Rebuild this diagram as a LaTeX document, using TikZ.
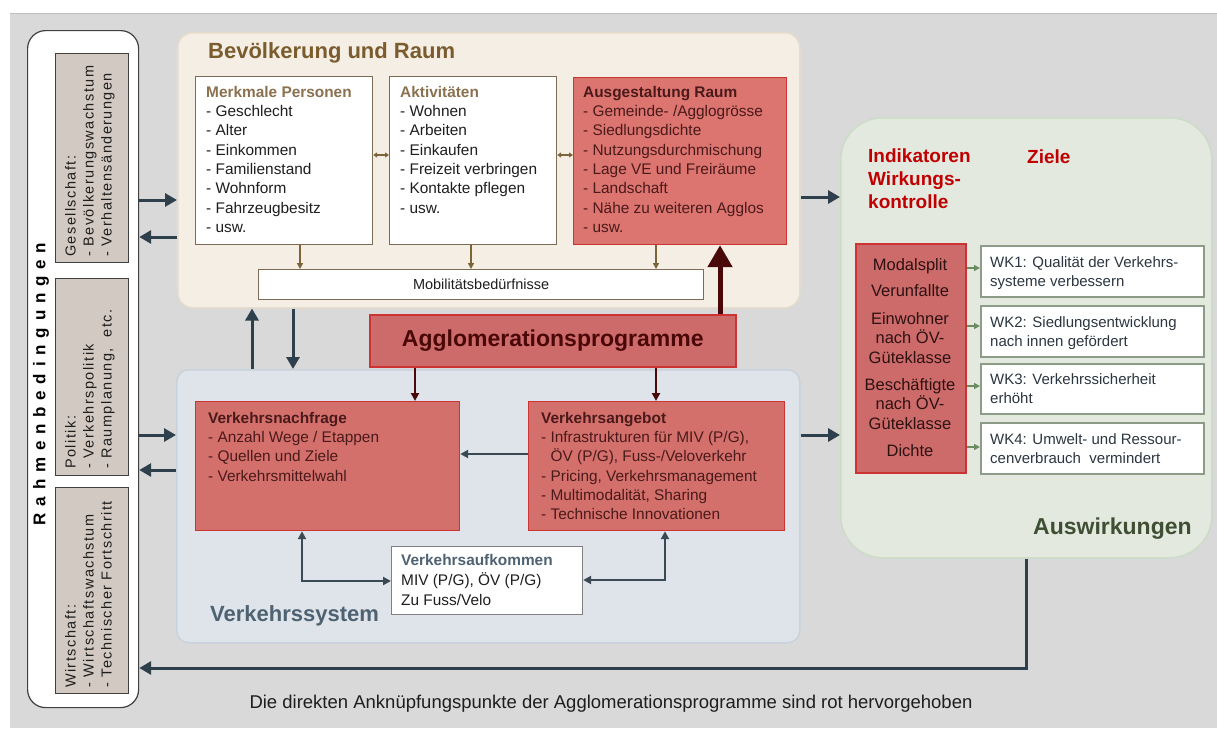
\documentclass[tikz,border=0pt]{standalone}
\usepackage{fontspec}
\setmainfont{Liberation Sans}
\newfontfamily\spacedfont[LetterSpace=40]{Liberation Sans}
\newfontfamily\rotfont[LetterSpace=10]{Liberation Sans}
\usetikzlibrary{arrows.meta}
\newcommand\myfs[2]{\fontsize{#1}{#2}\selectfont}
\definecolor{bg}{HTML}{D9D9D9}
\definecolor{cframe}{HTML}{404040}
\definecolor{cgray}{HTML}{D2C9C2}
\definecolor{cbevfill}{HTML}{F4EEE4}
\definecolor{cbevdraw}{HTML}{E6DCCB}
\definecolor{csysfill}{HTML}{DEE4E9}
\definecolor{csysdraw}{HTML}{C8D2DC}
\definecolor{causfill}{HTML}{E3E9DF}
\definecolor{causdraw}{HTML}{CCDCC6}
\definecolor{credfill}{HTML}{D4706C}
\definecolor{credraw}{HTML}{CC3333}
\definecolor{cagglofill}{HTML}{CD6A6A}
\definecolor{craumfill}{HTML}{DC7470}
\definecolor{cbrownbox}{HTML}{7C6C55}
\definecolor{ctitlebrown}{HTML}{7A5C2E}
\definecolor{cbrowntitle}{HTML}{8A7150}
\definecolor{cbrownarr}{HTML}{7A6438}
\definecolor{cmaroon}{HTML}{4A0808}
\definecolor{credtext}{HTML}{4A1A1A}
\definecolor{cslate}{HTML}{4F6272}
\definecolor{cdark}{HTML}{2E404C}
\definecolor{csys}{HTML}{3A4954}
\definecolor{cgreen}{HTML}{6B8C60}
\definecolor{cwkdraw}{HTML}{8C9C86}
\definecolor{cwktext}{HTML}{2C3640}
\definecolor{cred}{HTML}{C00000}
\definecolor{causwtitle}{HTML}{3F4F33}
\definecolor{ctext}{HTML}{1E1E1E}
\definecolor{cindtext}{HTML}{2E1212}
\begin{document}
\begin{tikzpicture}[x=1pt,y=-1pt,
  bx/.style={anchor=north west, inner sep=0pt, line width=1pt},
  txt/.style={anchor=north west, inner sep=0pt, align=left},
  arrdark/.style={draw=cdark, line width=3pt, -{Triangle[length=12pt,width=13pt]}},
  arrbrown/.style={draw=cbrownarr, line width=1.4pt, -{Triangle[length=6pt,width=6pt]}},
  arrbrownboth/.style={draw=cbrownarr, line width=1.2pt, {Triangle[length=4pt,width=5pt]}-{Triangle[length=4pt,width=5pt]}},
  arrred/.style={draw=cmaroon, line width=2.2pt, -{Triangle[length=8pt,width=8pt]}},
  arrsys/.style={draw=csys, line width=2pt, -{Triangle[length=8pt,width=8pt]}},
  arrsysboth/.style={draw=csys, line width=2pt, {Triangle[length=8pt,width=8pt]}-{Triangle[length=8pt,width=8pt]}},
  arrgreen/.style={draw=cgreen, line width=1.4pt, -{Triangle[length=6pt,width=6pt]}},
  redbox/.style={bx, fill=credfill, draw=credraw, line width=1.2pt},
  whitebox/.style={bx, fill=white, draw=cbrownbox, line width=1.2pt},
  wkbox/.style={bx, fill=white, draw=cwkdraw, line width=1.5pt, minimum width=223pt},
  graybox/.style={bx, fill=cgray, draw=cframe, minimum width=73pt},
  rottxt/.style={txt, rotate=90, text=ctext, font=\rotfont\myfs{14.5}{18}},
  body/.style={font=\myfs{15.4}{19.3}}
]
\useasboundingbox (0,0) rectangle (1217,728);
\fill[white] (0,0) rectangle (1217,728);
\fill[bg] (10,13) rectangle (1217,728);
\draw[color=black!25, line width=1pt] (10,13) -- (1217,13);

% Rahmenbedingungen
\node[bx, draw=cframe, fill=white, rounded corners=18pt, line width=1.2pt, minimum width=111pt, minimum height=677pt] (rahmen) at (27,30) {};
\node[rotate=90, inner sep=0pt, font=\spacedfont\bfseries\myfs{17}{20}, text=black] (rtitle) at (41,384) {Rahmenbedingungen};
\node[graybox, minimum height=209pt] (ges) at (55,53) {};
\node[graybox, minimum height=197pt] (pol) at (55,278) {};
\node[graybox, minimum height=206pt] (wir) at (55,487) {};
\node[rottxt] (gestxt) at (65,257) {Gesellschaft:\\- Bevölkerungswachstum\\- Verhaltensänderungen};
\node[rottxt] (poltxt) at (65,469) {Politik:\\- Verkehrspolitik\\- Raumplanung,\ \ etc.};
\node[rottxt] (wirtxt) at (65,688) {Wirtschaft:\\- Wirtschaftswachstum\\- Technischer Fortschritt};

% Bevoelkerung und Raum
\node[bx, fill=cbevfill, draw=cbevdraw, line width=1.5pt, rounded corners=15pt, minimum width=622pt, minimum height=275pt] (bev) at (177,32) {};
\node[anchor=west, inner sep=0pt, font=\bfseries\myfs{22}{24}, text=ctitlebrown] (bevtitle) at (208,53) {Bevölkerung und Raum};
\node[whitebox, minimum width=177pt, minimum height=168pt] (merk) at (195,76) {};
\node[whitebox, minimum width=167pt, minimum height=168pt] (akt) at (389,76) {};
\node[redbox, fill=craumfill, minimum width=213pt, minimum height=167pt] (raum) at (573,77) {};
\node[whitebox, minimum width=445pt, minimum height=30pt, font=\myfs{14.5}{16}, text=ctext] (mob) at (258,269) {Mobilitätsbedürfnisse};
\node[txt, body, text=ctext] (merktxt) at (206,86) {{\color{cbrowntitle}\bfseries Merkmale Personen}\\- Geschlecht\\- Alter\\- Einkommen\\- Familienstand\\- Wohnform\\- Fahrzeugbesitz\\- usw.};
\node[txt, body, text=ctext] (akttxt) at (400,86) {{\color{cbrowntitle}\bfseries Aktivitäten}\\- Wohnen\\- Arbeiten\\- Einkaufen\\- Freizeit verbringen\\- Kontakte pflegen\\- usw.};
\node[txt, body, text=credtext] (raumtxt) at (583,86) {{\bfseries Ausgestaltung Raum}\\- Gemeinde- /Agglogrösse\\- Siedlungsdichte\\- Nutzungsdurchmischung\\- Lage VE und Freiräume\\- Landschaft\\- Nähe zu weiteren Agglos\\- usw.};
\draw[arrbrown] (merk.south -| 300,0) -- (mob.north -| 300,0);
\draw[arrbrown] (akt.south -| 471,0) -- (mob.north -| 471,0);
\draw[arrbrown] (raum.south -| 656,0) -- (mob.north -| 656,0);
\draw[arrbrownboth] (merk.east |- 0,155) -- (akt.west |- 0,155);
\draw[arrbrownboth] (akt.east |- 0,155) -- (raum.west |- 0,155);

% Verkehrssystem
\node[bx, fill=csysfill, draw=csysdraw, line width=1.5pt, rounded corners=12pt, minimum width=623pt, minimum height=273pt] (vsys) at (176,369) {};
\node[anchor=base west, inner sep=0pt, font=\bfseries\myfs{22}{24}, text=cslate] (vsystitle) at (210,621) {Verkehrssystem};
\node[redbox, minimum width=264pt, minimum height=129pt] (vnach) at (195,401) {};
\node[redbox, minimum width=256pt, minimum height=129pt] (vang) at (528,401) {};
\node[bx, fill=white, draw=black!50, line width=1.2pt, minimum width=191pt, minimum height=68pt] (vauf) at (391,546) {};
\node[txt, body, text=credtext] (vnachtxt) at (208,412) {{\bfseries Verkehrsnachfrage}\\- Anzahl Wege / Etappen\\- Quellen und Ziele\\- Verkehrsmittelwahl};
\node[txt, body, text=credtext] (vangtxt) at (541,412) {{\bfseries Verkehrsangebot}\\- Infrastrukturen für MIV (P/G),\\\phantom{- }ÖV (P/G), Fuss-/Veloverkehr\\- Pricing, Verkehrsmanagement\\- Multimodalität, Sharing\\- Technische Innovationen};
\node[txt, font=\myfs{15.4}{20}, text=ctext] (vauftxt) at (401,554) {{\color{cslate}\bfseries Verkehrsaufkommen}\\MIV (P/G), ÖV (P/G)\\Zu Fuss/Velo};
\draw[arrsys] (vang.west |- 0,454) -- (vnach.east |- 0,454);
\draw[arrsysboth] (vnach.south -| 302,0) |- (vauf.west |- 0,581);
\draw[arrsysboth] (vang.south -| 665,0) |- (vauf.east |- 0,580);

% Agglomerationsprogramme
\node[bx, fill=cagglofill, draw=credraw, line width=1.5pt, minimum width=366pt, minimum height=52pt, font=\bfseries\myfs{23}{25}, text=cmaroon] (agglo) at (369,314) {Agglomerationsprogramme};
\draw[draw=cmaroon, line width=5pt, -{Triangle[length=22pt,width=24pt]}] (agglo.north -| 720,0) -- (raum.south -| 720,0);
\draw[arrred] (agglo.south -| 415,0) -- (vnach.north -| 415,0);
\draw[arrred] (agglo.south -| 656,0) -- (vang.north -| 656,0);

% Auswirkungen
\node[bx, fill=causfill, draw=causdraw, line width=1.5pt, rounded corners=42pt, minimum width=371pt, minimum height=440pt] (ausw) at (840,117) {};
\node[txt, font=\bfseries\myfs{19}{23}, text=cred] (indtitle) at (868,149) {Indikatoren\\Wirkungs-\\kontrolle};
\node[anchor=base west, inner sep=0pt, font=\bfseries\myfs{19}{23}, text=cred] (ziele) at (1027,163) {Ziele};
\node[anchor=base west, inner sep=0pt, font=\bfseries\myfs{23}{25}, text=causwtitle] (auswtitle) at (1033,534) {Auswirkungen};
\node[redbox, fill=cagglofill, draw=credraw, line width=1.5pt, minimum width=110pt, minimum height=229pt] (ind) at (855,243) {};
\node[anchor=north, inner sep=0pt, align=center, font=\myfs{16.5}{19.5}, text=cindtext] (indtxt) at (910,258) {Modalsplit\\[6.5pt]Verunfallte\\[8.5pt]Einwohner\\nach ÖV-\\Güteklasse\\[7.5pt]Beschäftigte\\nach ÖV-\\Güteklasse\\[7.5pt]Dichte};
\node[wkbox, minimum height=51pt] (wk1) at (980,245) {};
\node[wkbox, minimum height=51pt] (wk2) at (980,305) {};
\node[wkbox, minimum height=50pt] (wk3) at (980,363) {};
\node[wkbox, minimum height=51pt] (wk4) at (980,422) {};
\node[txt, font=\myfs{15}{19.5}, text=cwktext] (wk1txt) at (990,256) {WK1: Qualität der Verkehrs-\\systeme verbessern};
\node[txt, font=\myfs{15}{19.5}, text=cwktext] (wk2txt) at (990,316) {WK2: Siedlungsentwicklung\\nach innen gefördert};
\node[txt, font=\myfs{15}{19.5}, text=cwktext] (wk3txt) at (990,373) {WK3: Verkehrssicherheit\\erhöht};
\node[txt, font=\myfs{15}{19.5}, text=cwktext] (wk4txt) at (990,433) {WK4: Umwelt- und Ressour-\\cenverbrauch\ \ vermindert};
\draw[arrgreen] (ind.east |- 0,268) -- (wk1.west |- 0,268);
\draw[arrgreen] (ind.east |- 0,326) -- (wk2.west |- 0,326);
\draw[arrgreen] (ind.east |- 0,386) -- (wk3.west |- 0,386);
\draw[arrgreen] (ind.east |- 0,447) -- (wk4.west |- 0,447);

% main connectors
\draw[arrdark] (rahmen.east |- 0,200) -- (bev.west |- 0,200);
\draw[arrdark] (bev.west |- 0,237) -- (rahmen.east |- 0,237);
\draw[arrdark] (rahmen.east |- 0,435) -- (vsys.west |- 0,435);
\draw[arrdark] (vsys.west |- 0,470) -- (rahmen.east |- 0,470);
\draw[arrdark] (bev.east |- 0,197) -- (ausw.west |- 0,197);
\draw[arrdark] (vsys.east |- 0,435) -- (ausw.west |- 0,435);
\draw[arrdark] (vsys.north -| 252,0) -- (bev.south -| 252,0);
\draw[arrdark] (bev.south -| 293,0) -- (vsys.north -| 293,0);
\draw[arrdark] (ausw.south -| 1026,0) |- (rahmen.east |- 0,668);

% caption
\node[anchor=base, inner sep=0pt, font=\myfs{18.5}{20}, text=ctext] (caption) at (611,708) {Die direkten Anknüpfungspunkte der Agglomerationsprogramme sind rot hervorgehoben};
\end{tikzpicture}
\end{document}
